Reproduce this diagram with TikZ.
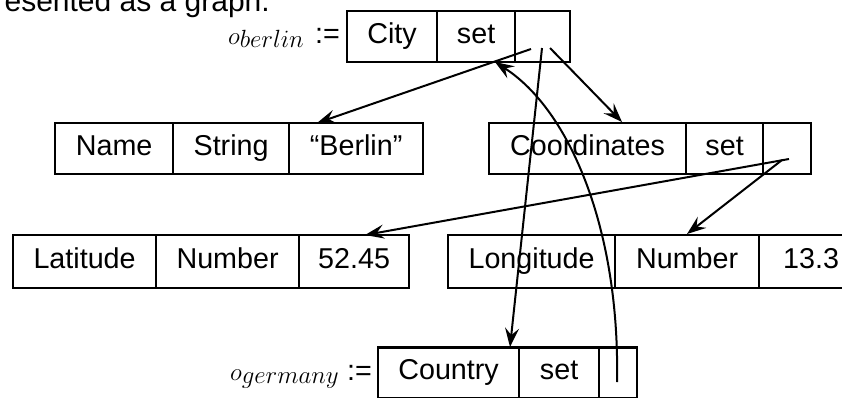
\documentclass[tikz,border=0pt]{standalone}
\usepackage{fontspec}
\setmainfont{Liberation Sans}
\usetikzlibrary{arrows.meta}
\newcommand\cellfont{\fontsize{28.7}{34}\selectfont}
\newcommand\objlab[1]{\fontsize{28}{30}\selectfont$o$\raisebox{-3pt}{\fontsize{26}{28}\selectfont$#1$}}
\tikzset{
  cell/.style={draw, line width=2.2pt, inner sep=0pt, anchor=west,
    minimum height=51pt, text height=20pt, text depth=7pt, font=\cellfont},
  link/.style={line width=2pt, -{Stealth[length=19pt,width=14pt,inset=7pt]}},
  lab/.style={inner sep=0pt, anchor=base east},
  assign/.style={inner sep=0pt, anchor=base west, font=\cellfont},
}
\begin{document}
\begin{tikzpicture}[x=1pt,y=-1pt]
\useasboundingbox (0,0) rectangle (842,397);

% cut-off caption line
\node[inner sep=0pt, anchor=base east, font=\fontsize{30}{34}\selectfont] (cap) at (270,11) {esented as a graph.};

% o_berlin
\node[lab] (lb) at (304,44) {\objlab{berlin}};
\node[assign] (ab) at (315,43) {:=};
\node[cell, minimum width=90pt] (city) at (346,36.5) {City};
\node[cell, minimum width=78pt] (bset) at (436,36.5) {set};
\node[cell, minimum width=55pt] (bref) at (514,36.5) {};

% Name row
\node[cell, minimum width=118pt] (name) at (54,148.5) {Name};
\node[cell, minimum width=116pt] (nstr) at (172,148.5) {String};
\node[cell, minimum width=134pt] (nval) at (288,148.5) {``Berlin''};

% Coordinates row
\node[cell, minimum width=197pt] (coord) at (488,148.5) {Coordinates};
\node[cell, minimum width=77pt] (cset) at (685,148.5) {set};
\node[cell, minimum width=48pt] (cref) at (762,148.5) {};

% Latitude
\node[cell, minimum width=143pt, minimum height=53pt] (lat) at (12,261.5) {Latitude};
\node[cell, minimum width=143pt, minimum height=53pt] (latn) at (155,261.5) {Number};
\node[cell, minimum width=110pt, minimum height=53pt] (latv) at (298,261.5) {52.45};

% Longitude
\node[cell, minimum width=167pt, minimum height=53pt] (lon) at (447,261.5) {Longitude};
\node[cell, minimum width=144pt, minimum height=53pt] (lonn) at (614,261.5) {Number};
\node[cell, minimum width=104pt, minimum height=53pt] (lonv) at (758,261.5) {13.3};

% o_germany
\node[lab] (lg) at (339,380) {\objlab{germany}};
\node[assign] (ag) at (347,380) {:=};
\node[cell, minimum width=141pt] (country) at (377,373) {Country};
\node[cell, minimum width=80pt] (gset) at (518,373) {set};
\node[cell, minimum width=38pt] (gref) at (598,373) {};

% connector end points
\coordinate (s1) at (531,49);
\coordinate (s2) at (542,48);
\coordinate (s3) at (550,48);
\coordinate (t1) at (317,123);
\coordinate (t2) at (510,347);
\coordinate (t3) at (622,122);
\coordinate (s4) at (789,159);
\coordinate (s5) at (782,160);
\coordinate (t4) at (365,235);
\coordinate (t5) at (687,234);
\coordinate (s6) at (617,382);
\coordinate (t6) at (495,62);

\draw[link] (s1) -- (t1);
\draw[link] (s2) -- (t2);
\draw[link] (s3) -- (t3);
\draw[link] (s4) -- (t4);
\draw[link] (s5) -- (t5);
\draw[link] (s6) .. controls (620,230) and (570,110) .. (t6);
\end{tikzpicture}
\end{document}
